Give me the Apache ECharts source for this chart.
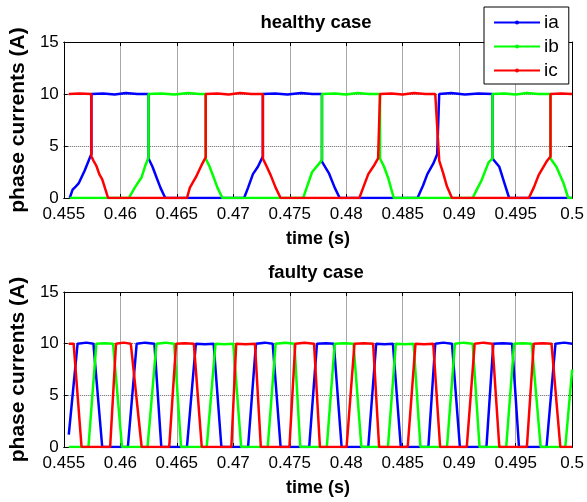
<!DOCTYPE html>
<html><head><meta charset="utf-8">
<script src="https://cdn.jsdelivr.net/npm/echarts@6/dist/echarts.min.js"></script>
<style>html,body{margin:0;padding:0;background:#fff}#c{width:587px;height:502px}</style>
</head><body><div id="c"></div>
<script>
const seriesNames = ['ia', 'ib', 'ic'];
const seriesColors = ['#0000ff', '#00ff00', '#ff0000'];
const titles = ['healthy case', 'faulty case'];
const xTickValues = [0.455, 0.46, 0.465, 0.47, 0.475, 0.48, 0.485, 0.49, 0.495, 0.5];
const yTickValues = [0, 5, 10, 15];

// healthy case [time (s), current (A)]
const healthyIa = [
  [0.45552,0],[0.45561,0],[0.45578,0.8],[0.45605,1.1],[0.45631,1.4],[0.45657,2.0],[0.45683,2.6],[0.45709,3.3],[0.45735,4.0],[0.45744,4.2],[0.45744,10],
  [0.45850,10.05],[0.45950,9.95],[0.46050,10.1],[0.46150,10.0],[0.46250,10],
  [0.46250,3.8],[0.46285,3.0],[0.46320,2.0],[0.46355,1.0],[0.46398,0],
  [0.47096,0],[0.47131,1.0],[0.47174,2.3],[0.47218,3.0],[0.47262,4.0],[0.47262,10],
  [0.47370,10.05],[0.47480,9.95],[0.47600,10.1],[0.47700,10.0],[0.47785,10],
  [0.47785,3.5],[0.47846,2.4],[0.47898,1.0],[0.47942,0],
  [0.48631,0],[0.48680,1.2],[0.48718,2.3],[0.48770,3.3],[0.48805,4.2],[0.48823,10],
  [0.48930,10.1],[0.49050,9.95],[0.49170,10.05],[0.49294,10],
  [0.49294,3.8],[0.49355,3.0],[0.49398,1.5],[0.49442,0],[0.50000,0]
];
const healthyIb = [
  [0.45552,0],[0.46076,0],[0.46128,1.0],[0.46189,2.0],[0.46224,3.2],[0.46250,3.9],[0.46250,10],
  [0.46360,10.05],[0.46480,9.95],[0.46600,10.1],[0.46700,10.0],[0.46756,10],
  [0.46756,3.8],[0.46791,3.0],[0.46826,2.0],[0.46860,1.0],[0.46904,0],
  [0.47619,0],[0.47650,1.0],[0.47698,2.5],[0.47767,3.4],[0.47785,3.7],[0.47785,10],
  [0.47900,10.05],[0.48000,9.95],[0.48100,10.1],[0.48200,10.0],[0.48299,10],
  [0.48299,3.8],[0.48335,3.0],[0.48369,2.0],[0.48400,0.8],[0.48421,0],
  [0.49119,0],[0.49160,0.9],[0.49198,1.7],[0.49259,3.4],[0.49294,3.8],[0.49294,10],
  [0.49400,10.05],[0.49500,9.95],[0.49600,10.1],[0.49700,10.0],[0.49808,10],
  [0.49808,3.8],[0.49860,3.0],[0.49921,1.5],[0.49965,0],[0.50000,0]
];
const healthyIc = [
  [0.45544,10],[0.45640,10.05],[0.45744,10],
  [0.45744,4.0],[0.45762,3.6],[0.45788,3.1],[0.45814,2.3],[0.45840,1.8],[0.45866,0.9],[0.45892,0],
  [0.46590,0],[0.46616,1.0],[0.46669,2.0],[0.46721,3.2],[0.46756,3.9],[0.46756,10],
  [0.46860,10.05],[0.46960,9.95],[0.47060,10.1],[0.47160,10.0],[0.47262,10],
  [0.47262,3.8],[0.47297,3.0],[0.47331,2.2],[0.47375,1.0],[0.47419,0],
  [0.48116,0],[0.48150,1.0],[0.48195,2.3],[0.48250,3.2],[0.48282,3.8],[0.48299,10],
  [0.48400,10.05],[0.48500,9.95],[0.48600,10.1],[0.48700,10.0],[0.48788,10],
  [0.48823,3.6],[0.48858,2.4],[0.48892,1.1],[0.48936,0],
  [0.49616,0],[0.49660,1.0],[0.49703,2.2],[0.49773,3.5],[0.49808,4.0],[0.49808,10],
  [0.49900,10.05],[0.50000,10]
];

// faulty case [time (s), current (A)]
const faultyIa = [
  [0.45544,1.2],[0.45622,10],[0.45700,10.1],[0.45762,10],[0.45840,0],
  [0.46067,0],[0.46145,10],[0.46220,10.1],[0.46302,10],[0.46363,0],
  [0.46590,0],[0.46669,10],[0.46750,9.95],[0.46826,10],[0.46895,0],
  [0.47131,0],[0.47201,10],[0.47280,10.1],[0.47349,10],[0.47419,0],
  [0.47672,0],[0.47741,10],[0.47820,10.05],[0.47890,10],[0.47959,0],
  [0.48195,0],[0.48265,10],[0.48340,9.95],[0.48413,10],[0.48483,0],
  [0.48727,0],[0.48788,10],[0.48860,10.1],[0.48936,10],[0.49006,0],
  [0.49241,0],[0.49302,10],[0.49385,10.05],[0.49468,10],[0.49529,0],
  [0.49773,0],[0.49852,10],[0.49930,10.1],[0.50000,10]
];
const faultyIb = [
  [0.45544,0],[0.45718,0],[0.45788,10],[0.45860,10.05],[0.45936,10],[0.46015,0],
  [0.46241,0],[0.46320,10],[0.46400,10.1],[0.46477,10],[0.46538,0],
  [0.46765,0],[0.46843,10],[0.46920,9.95],[0.47000,10],[0.47070,0],
  [0.47305,0],[0.47375,10],[0.47460,10.1],[0.47541,10],[0.47593,0],
  [0.47828,0],[0.47898,10],[0.47980,10.05],[0.48064,10],[0.48134,0],
  [0.48369,0],[0.48439,10],[0.48520,9.95],[0.48596,10],[0.48657,0],
  [0.48892,0],[0.48962,10],[0.49040,10.1],[0.49119,10],[0.49180,0],
  [0.49416,0],[0.49486,10],[0.49565,10.05],[0.49642,10],[0.49721,0],
  [0.49939,0],[0.50000,7.5]
];
const faultyIc = [
  [0.45544,10],[0.45587,10],[0.45657,0],
  [0.45910,0],[0.45962,10],[0.46030,10.1],[0.46093,10],[0.46189,0],
  [0.46433,0],[0.46494,10],[0.46570,10.05],[0.46651,10],[0.46721,0],
  [0.46983,0],[0.47026,10],[0.47110,9.95],[0.47192,10],[0.47244,0],
  [0.47497,0],[0.47549,10],[0.47630,10.1],[0.47715,10],[0.47767,0],
  [0.48003,0],[0.48073,10],[0.48160,10.05],[0.48238,10],[0.48291,0],
  [0.48544,0],[0.48613,10],[0.48690,9.95],[0.48770,10],[0.48831,0],
  [0.49067,0],[0.49137,10],[0.49215,10.1],[0.49294,10],[0.49355,0],
  [0.49599,0],[0.49660,10],[0.49740,10.05],[0.49817,10],[0.49895,0],
  [0.50000,0]
];

const FONT = '"Liberation Sans", Arial, Helvetica, sans-serif';
const chart = echarts.init(document.getElementById('c'), null, {renderer: 'canvas'});

const grids = [
  {left: 58, right: 13, top: 42, height: 156},
  {left: 58, right: 13, top: 292, height: 155}
];
const xMin = xTickValues[0], xMax = xTickValues[xTickValues.length - 1];
const xStep = 0.005;
const yMin = yTickValues[0], yMax = yTickValues[yTickValues.length - 1], yStep = 5;

const xAxis = [], yAxis = [];
grids.forEach((g, gi) => {
  xAxis.push({
    type: 'value', gridIndex: gi, min: xMin, max: xMax, interval: xStep, position: 'bottom',
    axisLine: {show: true, onZero: false, lineStyle: {color: '#000', width: 1}},
    axisTick: {show: true, inside: true, length: 4, lineStyle: {color: '#000'}},
    axisLabel: {formatter: v => String(+v.toFixed(3)), fontSize: 17, color: '#000', margin: 8, fontFamily: FONT},
    splitLine: {show: true, lineStyle: {color: '#a8a8a8', width: 1}},
    name: 'time (s)', nameLocation: 'middle', nameGap: 32,
    nameTextStyle: {fontSize: 18, fontWeight: 'bold', color: '#000', fontFamily: FONT}
  });
  xAxis.push({
    type: 'value', gridIndex: gi, min: xMin, max: xMax, interval: xStep, position: 'top',
    axisLine: {show: true, onZero: false, lineStyle: {color: '#000', width: 1}},
    axisTick: {show: true, inside: true, length: 4, lineStyle: {color: '#000'}},
    axisLabel: {show: false}, splitLine: {show: false}
  });
  yAxis.push({
    type: 'value', gridIndex: gi, min: yMin, max: yMax, interval: yStep, position: 'left',
    axisLine: {show: true, onZero: false, lineStyle: {color: '#000', width: 1}},
    axisTick: {show: true, inside: true, length: 4, lineStyle: {color: '#000'}},
    axisLabel: {fontSize: 17, color: '#000', margin: 5, fontFamily: FONT},
    splitLine: {show: true, lineStyle: {color: '#666', width: 1, type: [1, 1]}},
    name: 'phase currents (A)', nameLocation: 'middle', nameGap: 30, nameRotate: 90,
    nameTextStyle: {fontSize: 21, fontWeight: 'bold', color: '#000', fontFamily: FONT}
  });
  yAxis.push({
    type: 'value', gridIndex: gi, min: yMin, max: yMax, interval: yStep, position: 'right',
    axisLine: {show: true, onZero: false, lineStyle: {color: '#000', width: 1}},
    axisTick: {show: true, inside: true, length: 4, lineStyle: {color: '#000'}},
    axisLabel: {show: false}, splitLine: {show: false}
  });
});

const dataSets = [[healthyIa, healthyIb, healthyIc], [faultyIa, faultyIb, faultyIc]];
const series = [];
dataSets.forEach((set, gi) => {
  set.forEach((d, si) => {
    series.push({
      name: seriesNames[si], type: 'line', data: d,
      xAxisIndex: gi * 2, yAxisIndex: gi * 2,
      symbol: 'circle', symbolSize: 3, showSymbol: false,
      lineStyle: {color: seriesColors[si], width: 2.5},
      itemStyle: {color: seriesColors[si]},
      emphasis: {disabled: true}, animation: false, z: 2 + si
    });
  });
});

chart.setOption({
  animation: false,
  grid: grids,
  title: titles.map((t, i) => ({
    text: t, left: 316, top: i === 0 ? 13 : 263, textAlign: 'center', padding: 0,
    textStyle: {fontSize: 18.5, fontWeight: 'bold', color: '#000', fontFamily: FONT}
  })),
  legend: {
    data: seriesNames, orient: 'vertical', left: 484, top: 7,
    backgroundColor: '#fff', borderColor: '#000', borderWidth: 1,
    padding: [6, 10, 4, 9], itemGap: 5, itemWidth: 46, itemHeight: 5,
    selectedMode: false, z: 10,
    textStyle: {fontSize: 19, color: '#000', fontFamily: FONT, padding: [0, 0, 0, -1]}
  },
  xAxis: xAxis, yAxis: yAxis, series: series
});
</script></body></html>
